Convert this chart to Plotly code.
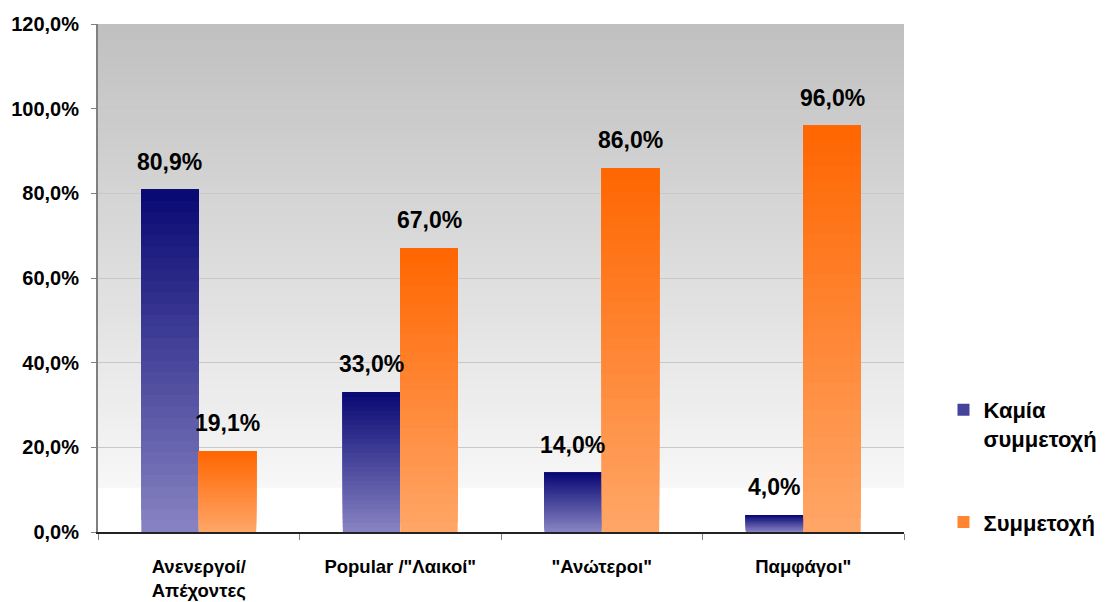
import plotly.graph_objects as go

# --- données ---
categories = ["Ανενεργοί/<br>Απέχοντες", 'Popular /"Λαικοί"', '"Ανώτεροι"', 'Παμφάγοι"']
series_names = ["Καμία<br>συμμετοχή", "Συμμετοχή"]
kamia = [0.809, 0.33, 0.14, 0.04]
symmetoxi = [0.191, 0.67, 0.86, 0.96]
y_ticks = [0, 0.2, 0.4, 0.6, 0.8, 1.0, 1.2]

# couleurs : (haut de barre, bas de barre)
grad = {
    "Καμία<br>συμμετοχή": ((8, 8, 115), (136, 132, 195)),
    "Συμμετοχή": ((255, 102, 0), (255, 166, 104)),
}
N = 30  # nombre de tranches pour simuler le dégradé
BOLD = dict(family="Liberation Sans, Arial", color="black", weight="bold")


def mix(c1, c2, t):
    return "rgb(%d,%d,%d)" % tuple(round(a + (b - a) * t) for a, b in zip(c1, c2))


def fmt(v):
    return f"{v * 100:.1f}".replace(".", ",") + "%"


fig = go.Figure()

# chaque tranche va de sa base jusqu'au sommet : la suivante la recouvre
# (évite les liserés blancs entre tranches)
for name, vals in zip(series_names, [kamia, symmetoxi]):
    top, bottom = grad[name]
    for k in range(N):
        t = (k + 0.5) / N  # 0 = bas, 1 = haut
        fig.add_trace(go.Bar(
            x=categories,
            y=[v * (N - k) / N for v in vals],
            base=[v * k / N for v in vals],
            offsetgroup=name,
            legendgroup=name,
            name=name,
            showlegend=(k == N // 2),
            marker=dict(color=mix(bottom, top, t), line=dict(width=0)),
            hoverinfo="skip",
        ))

# étiquettes de valeur au-dessus des barres
for shift, vals in [(-29, kamia), (29, symmetoxi)]:
    for c, v in zip(categories, vals):
        fig.add_annotation(
            x=c, y=v, text=fmt(v), showarrow=False,
            xshift=shift, yshift=13, yanchor="bottom",
            font=dict(BOLD, size=23),
        )

# fond dégradé gris -> blanc (bandes empilées qui se recouvrent)
n_bands = 60
y0 = 0.087
for i in range(n_bands):
    a = y0 + (1 - y0) * i / n_bands
    t = (i + 0.5) / n_bands
    fig.add_shape(
        type="rect", xref="x domain", yref="y domain", x0=0, x1=1, y0=a, y1=1,
        fillcolor=mix((247, 247, 247), (192, 192, 192), t), line=dict(width=0),
        layer="below",
    )

# la page ajoute 8 px de marge autour du graphe
fig.update_layout(
    width=1100, height=594,
    margin=dict(l=90, r=204, t=16, b=70, autoexpand=False),
    paper_bgcolor="white", plot_bgcolor="white",
    barmode="group", bargap=0.43, bargroupgap=0,
    separators=",.",
    font=BOLD,
    legend=dict(
        x=1.049, y=0.2815, xanchor="left", yanchor="top", valign="top",
        font=dict(BOLD, size=22),
        tracegroupgap=52, itemwidth=30, bgcolor="rgba(0,0,0,0)",
    ),
    showlegend=True,
)

fig.update_yaxes(
    range=[0, 1.2], tickvals=y_ticks, tickformat=".1%",
    showgrid=True, gridcolor="#c8c8c8", gridwidth=1,
    showline=True, linecolor="#808080", linewidth=2,
    ticks="outside", ticklen=5, tickcolor="#808080", ticklabelstandoff=8,
    tickfont=dict(BOLD, size=20), zeroline=False, automargin=False,
)
fig.update_xaxes(
    showline=True, linecolor="#222222", linewidth=2,
    ticks="outside", ticklen=6, tickcolor="#808080", tickson="boundaries",
    ticklabelstandoff=17, automargin=False,
    tickfont=dict(BOLD, size=18.5), showgrid=False,
)

fig.write_html("out.html")
